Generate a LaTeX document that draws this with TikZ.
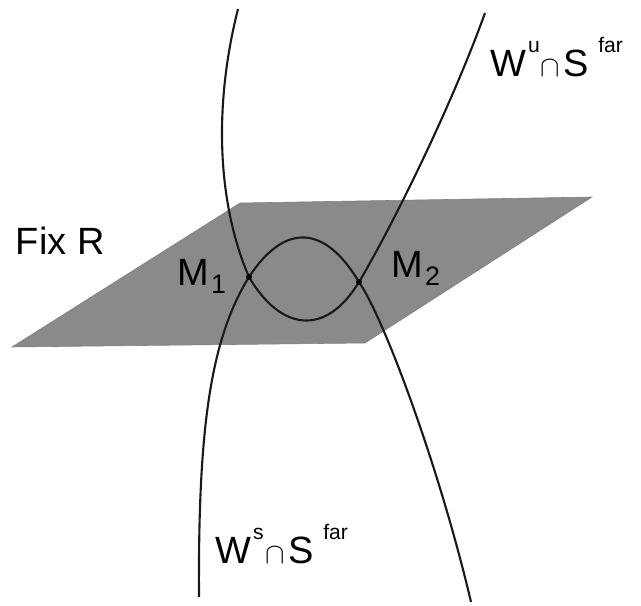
\documentclass[tikz,border=0pt]{standalone}
\usepackage{fontspec}
\setmainfont{Liberation Sans}
% thin intersection sign between W and S
\newcommand{\capsign}{{\fontsize{21}{21}\selectfont$\cap$}}
\newcommand{\suptxt}[1]{\raisebox{16.5pt}{\fontsize{15}{15}\selectfont #1}}
\newcommand{\subtxt}[1]{\raisebox{-6pt}{\fontsize{19}{19}\selectfont #1}}
\newcommand{\manif}[1]{W\kern1pt\rlap{\suptxt{#1}}\kern9pt\capsign\kern2pt S\kern7pt\suptxt{far}}
\begin{document}
\begin{tikzpicture}[x=0.025cm, y=-0.025cm, line width=1.4pt,
  font=\fontsize{27}{30}\selectfont,
  plane/.style={fill=black!46, draw=black!50, line width=0.4pt},
  curve/.style={draw=black!90, line width=1.5pt},
  dot/.style={circle, fill=black, inner sep=0pt, minimum size=4pt},
  lbl/.style={inner sep=0pt, anchor=base west}]
  \useasboundingbox (0,0) rectangle (641,606);
  % the plane Fix R
  \coordinate (p1) at (12,347);
  \coordinate (p2) at (240,203);
  \coordinate (p3) at (592,197);
  \coordinate (p4) at (365,343);
  \fill[plane] (p1) -- (p2) -- (p3) -- (p4) -- cycle;
  % crossing points
  \node[dot] (m1) at (249,277) {};
  \node[dot] (m2) at (359,282) {};
  % free ends of the curves
  \coordinate (ua) at (238,9);
  \coordinate (ub) at (485,13);
  \coordinate (sa) at (199,597);
  \coordinate (sb) at (471,602);
  % W^u: down through M1, lower arc, up through M2
  \draw[curve] (ua) .. controls (210,120) and (222,215) .. (m1.center)
    .. controls (280,330) and (325,338) .. (m2.center)
    .. controls (390,230) and (450,110) .. (ub);
  % W^s: up through M1, upper arc, down through M2
  \draw[curve] (sa) .. controls (198,430) and (210,340) .. (m1.center)
    .. controls (285,222) and (325,225) .. (m2.center)
    .. controls (385,320) and (440,470) .. (sb);
  \node[dot] at (m1) {};
  \node[dot] at (m2) {};
  % labels
  \node[lbl] (fix) at (15,254) {Fix R};
  \node[lbl] (t1) at (177,285) {M\kern1pt\subtxt{1}};
  \node[lbl] (t2) at (391,277) {M\kern1pt\subtxt{2}};
  \node[lbl] (wu) at (490,76) {\manif{u}};
  \node[lbl] (ws) at (215,563) {\manif{s}};
\end{tikzpicture}
\end{document}
